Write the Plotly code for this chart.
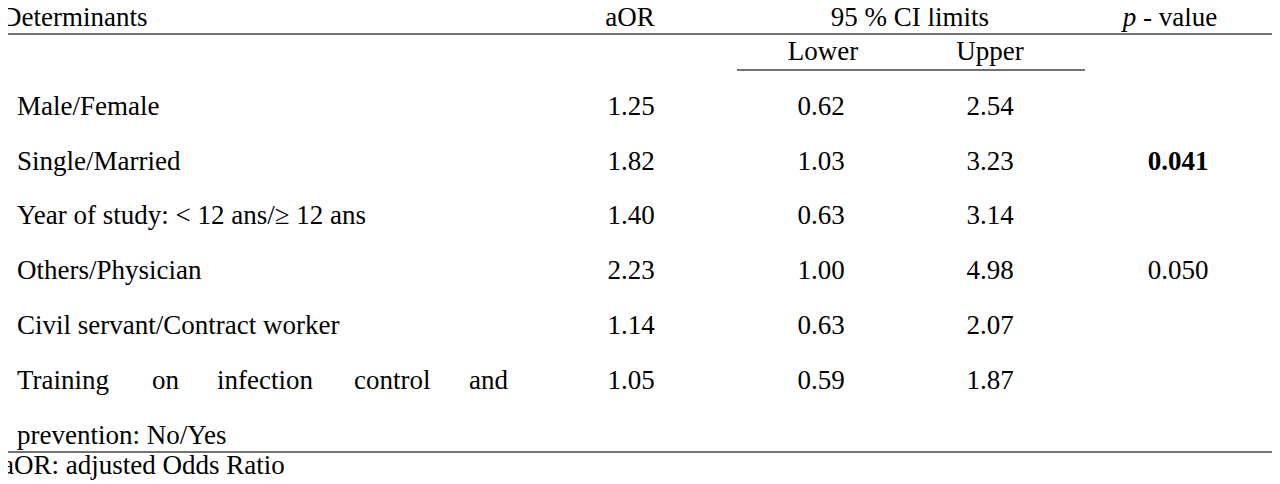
import plotly.graph_objects as go

determinants = ["Male/Female", "Single/Married", "Year of study: < 12 ans/≥ 12 ans",
                "Others/Physician", "Civil servant/Contract worker"]
aor = ["1.25", "1.82", "1.40", "2.23", "1.14", "1.05"]
lower = ["0.62", "1.03", "0.63", "1.00", "0.63", "0.59"]
upper = ["2.54", "3.23", "3.14", "4.98", "2.07", "1.87"]
pvals = ["", "<b>0.041</b>", "", "0.050", "", ""]
training_words = ["Training", "on", "infection", "control", "and"]
training_line2 = "prevention: No/Yes"
headers = ["Determinants", "aOR", "95 % CI limits", "<i>p</i> - value"]
subheaders = ["Lower", "Upper"]
footnote = "aOR: adjusted Odds Ratio"

row_y = [107, 162, 216, 271, 326, 381]
FONT = dict(family="Liberation Serif, Times New Roman, serif", size=27, color="black")

fig = go.Figure()
def txt(x, y, t, pos):
    fig.add_trace(go.Scatter(x=x, y=y, text=t, mode="text", textposition=pos,
                             textfont=FONT, hoverinfo="skip", showlegend=False))

txt([2], [18], [headers[0]], "middle right")
txt([630, 910, 1170], [18, 18, 18], headers[1:], "middle center")
txt([823, 990], [52, 52], subheaders, "middle center")
txt([17]*5, row_y[:5], determinants, "middle right")
txt([17, 152, 217, 354, 469], [row_y[5]]*5, training_words, "middle right")
txt([17], [436], [training_line2], "middle right")
txt([631]*6, row_y, aor, "middle center")
txt([821]*6, row_y, lower, "middle center")
txt([990]*6, row_y, upper, "middle center")
txt([1178]*6, row_y, pvals, "middle center")
txt([2], [466], [footnote], "middle right")

for (x0, x1, y) in [(0, 1275, 2), (0, 1275, 33), (737, 1085, 69), (0, 1275, 451)]:
    fig.add_shape(type="line", x0=x0, x1=x1, y0=y, y1=y, xref="x", yref="y",
                  line=dict(color="#444", width=1.5))

fig.update_layout(width=1280, height=484, margin=dict(l=0, r=0, t=0, b=0),
                  plot_bgcolor="white", paper_bgcolor="white",
                  xaxis=dict(range=[8, 1288], visible=False, fixedrange=True),
                  yaxis=dict(range=[491, 7], visible=False, fixedrange=True))
fig.write_html("out.html")
